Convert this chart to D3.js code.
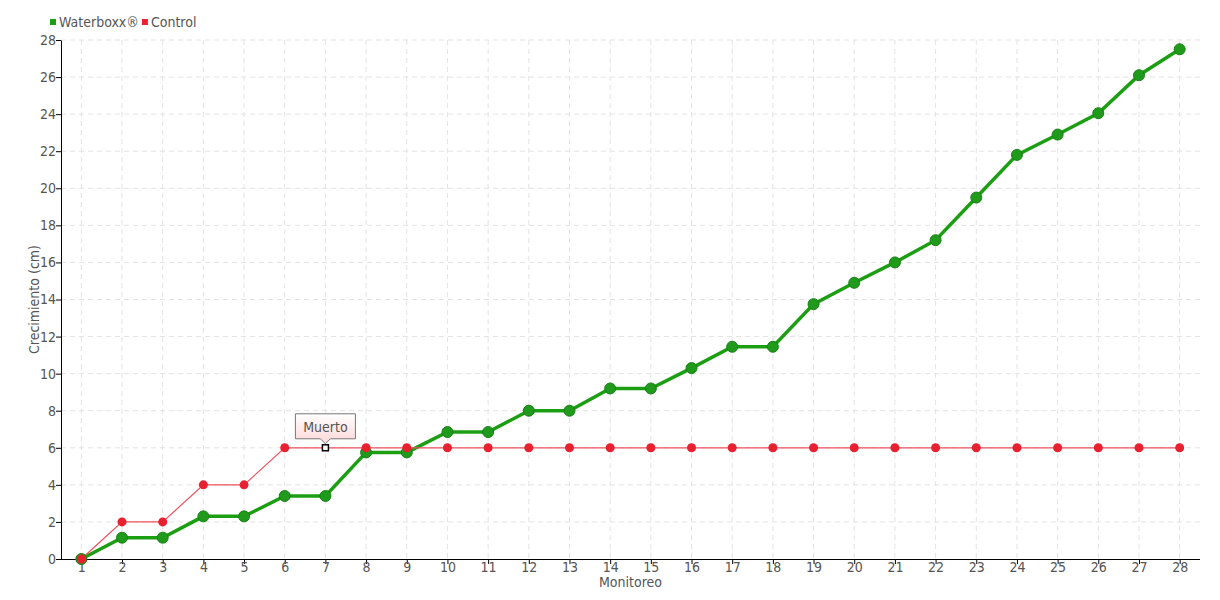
<!DOCTYPE html>
<html>
<head>
<meta charset="utf-8">
<script src="https://cdn.jsdelivr.net/npm/d3@7"></script>
<style>
  body { margin: 0; background: #fff; }
  text { font-family: "DejaVu Sans Condensed", "DejaVu Sans", sans-serif; fill: #555; }
</style>
</head>
<body>
<div id="chart"></div>
<script>
const monitoreo = d3.range(1, 29);
const waterboxx = [0, 1.15, 1.15, 2.3, 2.3, 3.4, 3.4, 5.75, 5.75, 6.85, 6.85, 8, 8, 9.2, 9.2, 10.3,
  11.45, 11.45, 13.75, 14.9, 16, 17.2, 19.5, 21.8, 22.9, 24.05, 26.1, 27.5];
const control = [0, 2, 2, 4, 4, 6, 6, 6, 6, 6, 6, 6, 6, 6, 6, 6, 6, 6, 6, 6, 6, 6, 6, 6, 6, 6, 6, 6];
const yTicks = d3.range(0, 29, 2);
const note = { index: 6, text: "Muerto" }; // control point at monitoreo 7

const w = 1220;
const h = 600;
const padLeft = 61, padRight = 1200, padTop = 40, padBottom = 559;

const svg = d3.select("#chart")
  .append("svg")
  .attr("width", w)
  .attr("height", h);

const defs = svg.append("defs");
const grad = defs.append("linearGradient")
  .attr("id", "noteGrad")
  .attr("x1", 0).attr("y1", 0).attr("x2", 0).attr("y2", 1);
grad.append("stop").attr("offset", "0%").attr("stop-color", "#ffffff");
grad.append("stop").attr("offset", "100%").attr("stop-color", "#fdd6d6");

const xScale = d3.scalePoint()
  .domain(monitoreo)
  .range([padLeft, padRight])
  .padding(0.5);

const yScale = d3.scaleLinear()
  .domain([0, 28])
  .range([padBottom, padTop]);

// grid
svg.append("g")
  .selectAll("line")
  .data(yTicks.slice(1))
  .enter()
  .append("line")
  .attr("x1", padLeft).attr("x2", padRight)
  .attr("y1", d => yScale(d)).attr("y2", d => yScale(d))
  .attr("stroke", "#e3e3e3")
  .attr("stroke-dasharray", "5,4");

svg.append("g")
  .selectAll("line")
  .data(monitoreo)
  .enter()
  .append("line")
  .attr("x1", d => xScale(d)).attr("x2", d => xScale(d))
  .attr("y1", padTop).attr("y2", padBottom)
  .attr("stroke", "#e3e3e3")
  .attr("stroke-dasharray", "5,4");

// axes
const xAxis = d3.axisBottom(xScale).tickSize(5).tickSizeOuter(0);
const yAxis = d3.axisLeft(yScale).tickValues(yTicks).tickSize(5).tickSizeOuter(0);

svg.append("g")
  .attr("transform", "translate(0, " + padBottom + ")")
  .call(xAxis)
  .call(g => g.selectAll("text").attr("font-size", 14).attr("y", 3))
  .call(g => g.select(".domain").attr("stroke", "#000").attr("d", `M${padLeft},0.5H${padRight}`));

svg.append("g")
  .attr("transform", "translate(" + padLeft + ", 0)")
  .call(yAxis)
  .call(g => g.selectAll("text").attr("font-size", 14).attr("x", -5))
  .call(g => g.select(".domain").attr("stroke", "#000"));

svg.append("text")
  .attr("x", (padLeft + padRight) / 2)
  .attr("y", 587)
  .attr("text-anchor", "middle")
  .attr("font-size", 14)
  .text("Monitoreo");

svg.append("text")
  .attr("transform", "translate(39, " + ((padTop + padBottom) / 2) + ") rotate(-90)")
  .attr("text-anchor", "middle")
  .attr("font-size", 14)
  .text("Crecimiento (cm)");

// lines
const line = d3.line()
  .x((d, i) => xScale(monitoreo[i]))
  .y(d => yScale(d));

svg.append("path")
  .datum(waterboxx)
  .attr("d", line)
  .attr("fill", "none")
  .attr("stroke", "#1c9e12")
  .attr("stroke-width", 3.5);

svg.append("path")
  .datum(control)
  .attr("d", line)
  .attr("fill", "none")
  .attr("stroke", "#f0505e")
  .attr("stroke-width", 1.2);

svg.append("g")
  .selectAll("circle")
  .data(waterboxx)
  .enter()
  .append("circle")
  .attr("cx", (d, i) => xScale(monitoreo[i]))
  .attr("cy", d => yScale(d))
  .attr("r", 5.5)
  .attr("fill", "#1f9a1a")
  .attr("stroke", "#178016")
  .attr("stroke-width", 1);

const controlPts = control
  .map((v, i) => ({ m: monitoreo[i], v: v, i: i }))
  .filter(d => d.i !== note.index);

svg.append("g")
  .selectAll("circle")
  .data(controlPts)
  .enter()
  .append("circle")
  .attr("cx", d => xScale(d.m))
  .attr("cy", d => yScale(d.v))
  .attr("r", 4.5)
  .attr("fill", "#e8202f");

// annotation
const nx = xScale(monitoreo[note.index]);
const ny = yScale(control[note.index]);
svg.append("rect")
  .attr("x", nx - 3).attr("y", ny - 3)
  .attr("width", 6).attr("height", 6)
  .attr("fill", "#fff")
  .attr("stroke", "#000")
  .attr("stroke-width", 1.5);

const bw = 60, bh = 25;
const bx = nx - 30, by = ny - 34;
svg.append("path")
  .attr("d", `M${bx},${by}H${bx + bw}V${by + bh}H${nx + 5}L${nx},${by + bh + 5}L${nx - 5},${by + bh}H${bx}Z`)
  .attr("fill", "url(#noteGrad)")
  .attr("stroke", "#777")
  .attr("stroke-width", 1);
svg.append("text")
  .attr("x", nx)
  .attr("y", by + 18)
  .attr("text-anchor", "middle")
  .attr("font-size", 14)
  .text(note.text);

// legend
const legend = svg.append("g");
const series = [["Waterboxx®", "#1c9e12"], ["Control", "#e8202f"]];
let lx = 50;
series.forEach(([name, color]) => {
  legend.append("rect")
    .attr("x", lx).attr("y", 19)
    .attr("width", 6).attr("height", 6)
    .attr("fill", color);
  const t = legend.append("text")
    .attr("x", lx + 9)
    .attr("y", 27)
    .attr("font-size", 14)
    .text(name);
  lx += t.node().getComputedTextLength() + 12;
});
</script>
</body>
</html>
